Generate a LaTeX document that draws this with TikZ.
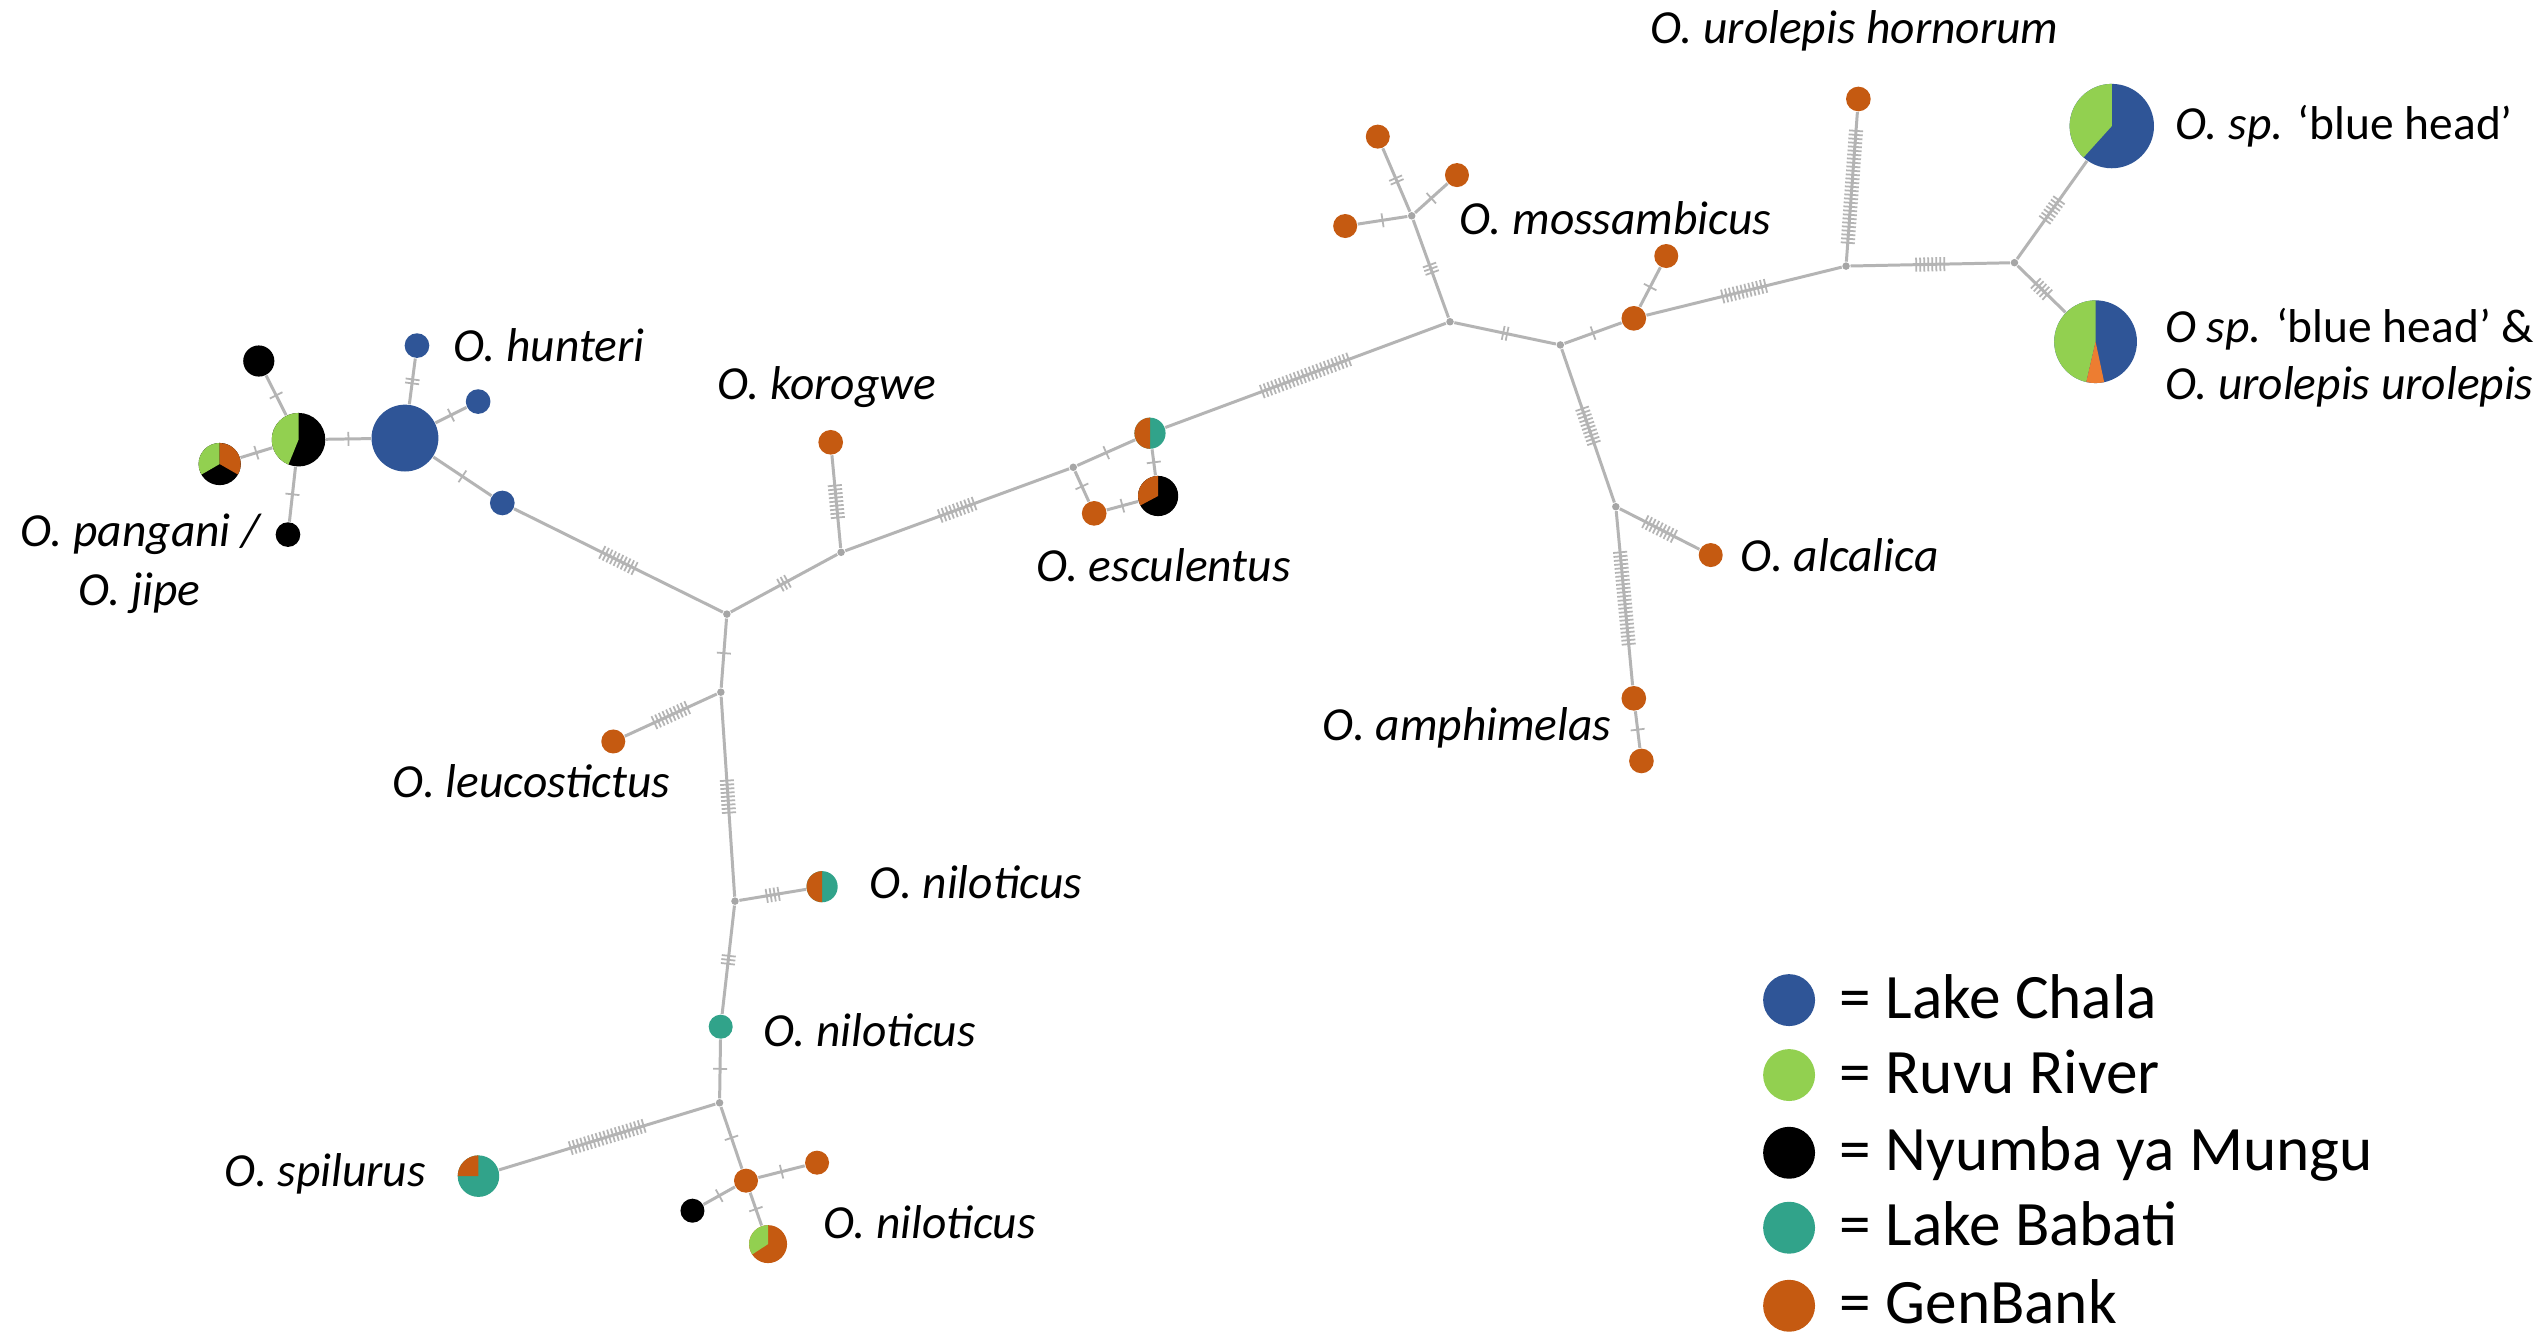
\documentclass[tikz,border=0pt]{standalone}
\usepackage{fontspec}
\setmainfont{Carlito}
\usetikzlibrary{decorations.markings}
\definecolor{cblue}{HTML}{2F5597}
\definecolor{cgreen}{HTML}{92D050}
\definecolor{cteal}{HTML}{31A38A}
\definecolor{corange}{HTML}{C55A11}
\definecolor{clorange}{HTML}{ED7D31}
\definecolor{cline}{HTML}{B4B4B4}
\definecolor{cdot}{HTML}{A6A6A6}
\tikzset{
  hap/.style={circle, inner sep=0pt, minimum size=#1*0.32448mm},
  jn/.style={circle, inner sep=0pt, minimum size=0.75mm, fill=cdot},
  link/.style={draw=cline, line width=0.85pt},
  ticks/.style={link, postaction={decorate, decoration={markings,
     mark=between positions {0.5*\pgfdecoratedpathlength*1pt-(#1-1)*0.57pt} and {0.5*\pgfdecoratedpathlength*1pt+(#1-1)*0.57pt+0.05pt} step 1.14pt with {\draw[cline, line width=0.5pt] (0,-2pt)--(0,2pt);}}}},
  ticks/.default=1,
  lab/.style={font=\fontsize{13.5}{15}\selectfont\itshape, inner sep=0pt},
  leg/.style={font=\fontsize{18}{20}\selectfont, inner sep=0pt, anchor=base west},
}
\newcommand\slice[5]{\fill[#5] (#1.center) -- ++(#3:#2) arc[start angle=#3, end angle=#4, radius=#2] -- cycle;}
\begin{document}
\begin{tikzpicture}[x=0.016224cm, y=0.016224cm]
\fill[white] (0,0) rectangle (1568,-823);
\useasboundingbox (0,0) rectangle (1568,-823);
% haplotypes and junctions
\node[hap=9.6, fill=black] (bt) at (159.5,-222.5) {};
\node[hap=16.5, fill=black] (pp) at (184,-271) {};
\node[hap=13, fill=black] (p3) at (135.4,-286) {};
\node[hap=7.6, fill=black] (bb) at (177.5,-329.5) {};
\node[hap=20.6, fill=cblue] (BB) at (249.6,-270) {};
\node[hap=7.6, fill=cblue] (bu) at (257,-213) {};
\node[hap=7.6, fill=cblue] (br) at (294.7,-247.5) {};
\node[hap=7.6, fill=cblue] (bl) at (309.6,-310) {};
\node[jn] (J1) at (448,-378.5) {};
\node[jn] (J2) at (518.4,-340.4) {};
\node[hap=7.6, fill=corange] (kor) at (512,-272.6) {};
\node[jn] (J3) at (661.5,-288) {};
\node[hap=9.6, fill=cteal] (tp) at (708.8,-267) {};
\node[hap=7.6, fill=corange] (o1) at (674.4,-316.4) {};
\node[hap=12.4, fill=black] (ob) at (713.8,-305.7) {};
\node[jn] (J4) at (893.7,-198.3) {};
\node[jn] (J5) at (870.1,-133) {};
\node[hap=7.4, fill=corange] (m1) at (849.2,-84.2) {};
\node[hap=7.4, fill=corange] (m2) at (898,-107.9) {};
\node[hap=7.4, fill=corange] (m3) at (829.1,-139.3) {};
\node[jn] (J6) at (961.7,-212.6) {};
\node[hap=7.6, fill=corange] (m4) at (1007,-196.2) {};
\node[hap=7.4, fill=corange] (m5) at (1027,-157.8) {};
\node[jn] (J7) at (1137.8,-164) {};
\node[hap=7.6, fill=corange] (horn) at (1145.4,-61) {};
\node[jn] (J8) at (1241.6,-161.9) {};
\node[hap=26, fill=cblue] (bh) at (1301.6,-77.7) {};
\node[hap=25.5, fill=cblue] (bu2) at (1291.6,-210.6) {};
\node[jn] (J9) at (995.9,-312.3) {};
\node[hap=7.4, fill=corange] (alc) at (1054.4,-342.1) {};
\node[hap=7.6, fill=corange] (am1) at (1007,-430.4) {};
\node[hap=7.6, fill=corange] (am2) at (1011.7,-469) {};
\node[jn] (J10) at (444.3,-426.6) {};
\node[hap=7.4, fill=corange] (leu) at (378,-457) {};
\node[jn] (J11) at (453,-555.4) {};
\node[hap=9.6, fill=cteal] (n1) at (506.7,-546.5) {};
\node[hap=7.4, fill=cteal] (n2) at (444.2,-632.8) {};
\node[jn] (J12) at (443.5,-679.7) {};
\node[hap=12.8, fill=cteal] (sp) at (294.9,-724.9) {};
\node[hap=7.4, fill=corange] (o2) at (459.8,-727.7) {};
\node[hap=7.4, fill=corange] (o3) at (503.6,-716.6) {};
\node[hap=7.4, fill=black] (o4) at (426.8,-746.2) {};
\node[hap=11.7, fill=corange] (n3) at (473.4,-766.8) {};
% pie slices
\slice{pp}{16.5}{90}{248}{cgreen}
\slice{p3}{13}{90}{210}{cgreen}
\slice{p3}{13}{-30}{90}{corange}
\slice{tp}{9.6}{90}{270}{corange}
\slice{ob}{12.4}{90}{208}{corange}
\slice{bh}{26}{90}{228}{cgreen}
\slice{bu2}{25.5}{90}{257}{cgreen}
\slice{bu2}{25.5}{257}{282}{clorange}
\slice{n1}{9.6}{90}{270}{corange}
\slice{sp}{12.8}{90}{180}{corange}
\slice{n3}{11.7}{90}{213}{cgreen}
% connectors
\path[ticks=1] (bt) -- (pp);
\path[ticks=1] (p3) -- (pp);
\path[ticks=1] (pp) -- (bb);
\path[ticks=1] (pp) -- (BB);
\path[ticks=2] (BB) -- (bu);
\path[ticks=1] (BB) -- (br);
\path[ticks=1] (BB) -- (bl);
\path[ticks=10] (bl) -- (J1);
\path[ticks=3] (J1) -- (J2);
\path[ticks=9] (J2) -- (kor);
\path[ticks=10] (J2) -- (J3);
\path[ticks=1] (J3) -- (tp);
\path[ticks=1] (J3) -- (o1);
\path[ticks=1] (o1) -- (ob);
\path[ticks=1] (tp) -- (ob);
\path[ticks=24] (tp) -- (J4);
\path[ticks=3] (J4) -- (J5);
\path[ticks=2] (J5) -- (m1);
\path[ticks=1] (J5) -- (m2);
\path[ticks=1] (J5) -- (m3);
\path[ticks=2] (J4) -- (J6);
\path[ticks=1] (J6) -- (m4);
\path[ticks=1] (m4) -- (m5);
\path[ticks=12] (m4) -- (J7);
\path[ticks=29] (J7) -- (horn);
\path[ticks=8] (J7) -- (J8);
\path[ticks=7] (J8) -- (bh);
\path[ticks=5] (J8) -- (bu2);
\path[ticks=10] (J6) -- (J9);
\path[ticks=9] (J9) -- (alc);
\path[ticks=24] (J9) -- (am1);
\path[ticks=1] (am1) -- (am2);
\path[ticks=1] (J1) -- (J10);
\path[ticks=10] (J10) -- (leu);
\path[ticks=9] (J10) -- (J11);
\path[ticks=4] (J11) -- (n1);
\path[ticks=3] (J11) -- (n2);
\path[ticks=1] (n2) -- (J12);
\path[ticks=20] (J12) -- (sp);
\path[ticks=1] (J12) -- (o2);
\path[ticks=1] (o2) -- (o3);
\path[ticks=1] (o2) -- (o4);
\path[ticks=1] (o2) -- (n3);
% labels
\node[lab, anchor=base west] (t1) at (279,-223) {O. hunteri};
\node[lab, anchor=base] (t2) at (86.5,-337) {O. pangani /};
\node[lab, anchor=base] (t3) at (86,-373) {O. jipe};
\node[lab, anchor=base] (t4) at (509.5,-246.5) {O. korogwe};
\node[lab, anchor=base] (t5) at (717,-358.5) {O. esculentus};
\node[lab, anchor=base] (t6) at (327.6,-491.3) {O. leucostictus};
\node[lab, anchor=base west] (t7) at (535.6,-553.6) {O. niloticus};
\node[lab, anchor=base west] (t8) at (470,-645) {O. niloticus};
\node[lab, anchor=base east] (t9) at (263,-731.4) {O. spilurus};
\node[lab, anchor=base west] (t10) at (507,-763.3) {O. niloticus};
\node[lab, anchor=base west] (t11) at (899.2,-144.8) {O. mossambicus};
\node[lab, anchor=base] (t12) at (1143,-27) {O. urolepis hornorum};
\node[lab, anchor=base west] (t13) at (1340.5,-85.9) {O. sp. {\upshape ‘blue head’}};
\node[lab, anchor=base west] (t14) at (1334,-211.2) {O sp. {\upshape ‘blue head’ \&}};
\node[lab, anchor=base west] (t15) at (1334,-246.5) {O. urolepis urolepis};
\node[lab, anchor=base west] (t16) at (1072.5,-352.4) {O. alcalica};
\node[lab, anchor=base east] (t17) at (993.6,-456.1) {O. amphimelas};
% legend
\node[hap=16, fill=cblue] (L1) at (1102.7,-616.4) {};
\node[hap=16, fill=cgreen] (L2) at (1102.7,-662.6) {};
\node[hap=16, fill=black] (L3) at (1102.7,-710.5) {};
\node[hap=16, fill=cteal] (L4) at (1102.7,-756.7) {};
\node[hap=16, fill=corange] (L5) at (1102.7,-804.8) {};
\node[leg] (l1) at (1133.5,-627.6) {= Lake Chala};
\node[leg] (l2) at (1133.5,-673.8) {= Ruvu River};
\node[leg] (l3) at (1133.5,-721.7) {= Nyumba ya Mungu};
\node[leg] (l4) at (1133.5,-767.9) {= Lake Babati};
\node[leg] (l5) at (1133.5,-816) {= GenBank};
\end{tikzpicture}
\end{document}
